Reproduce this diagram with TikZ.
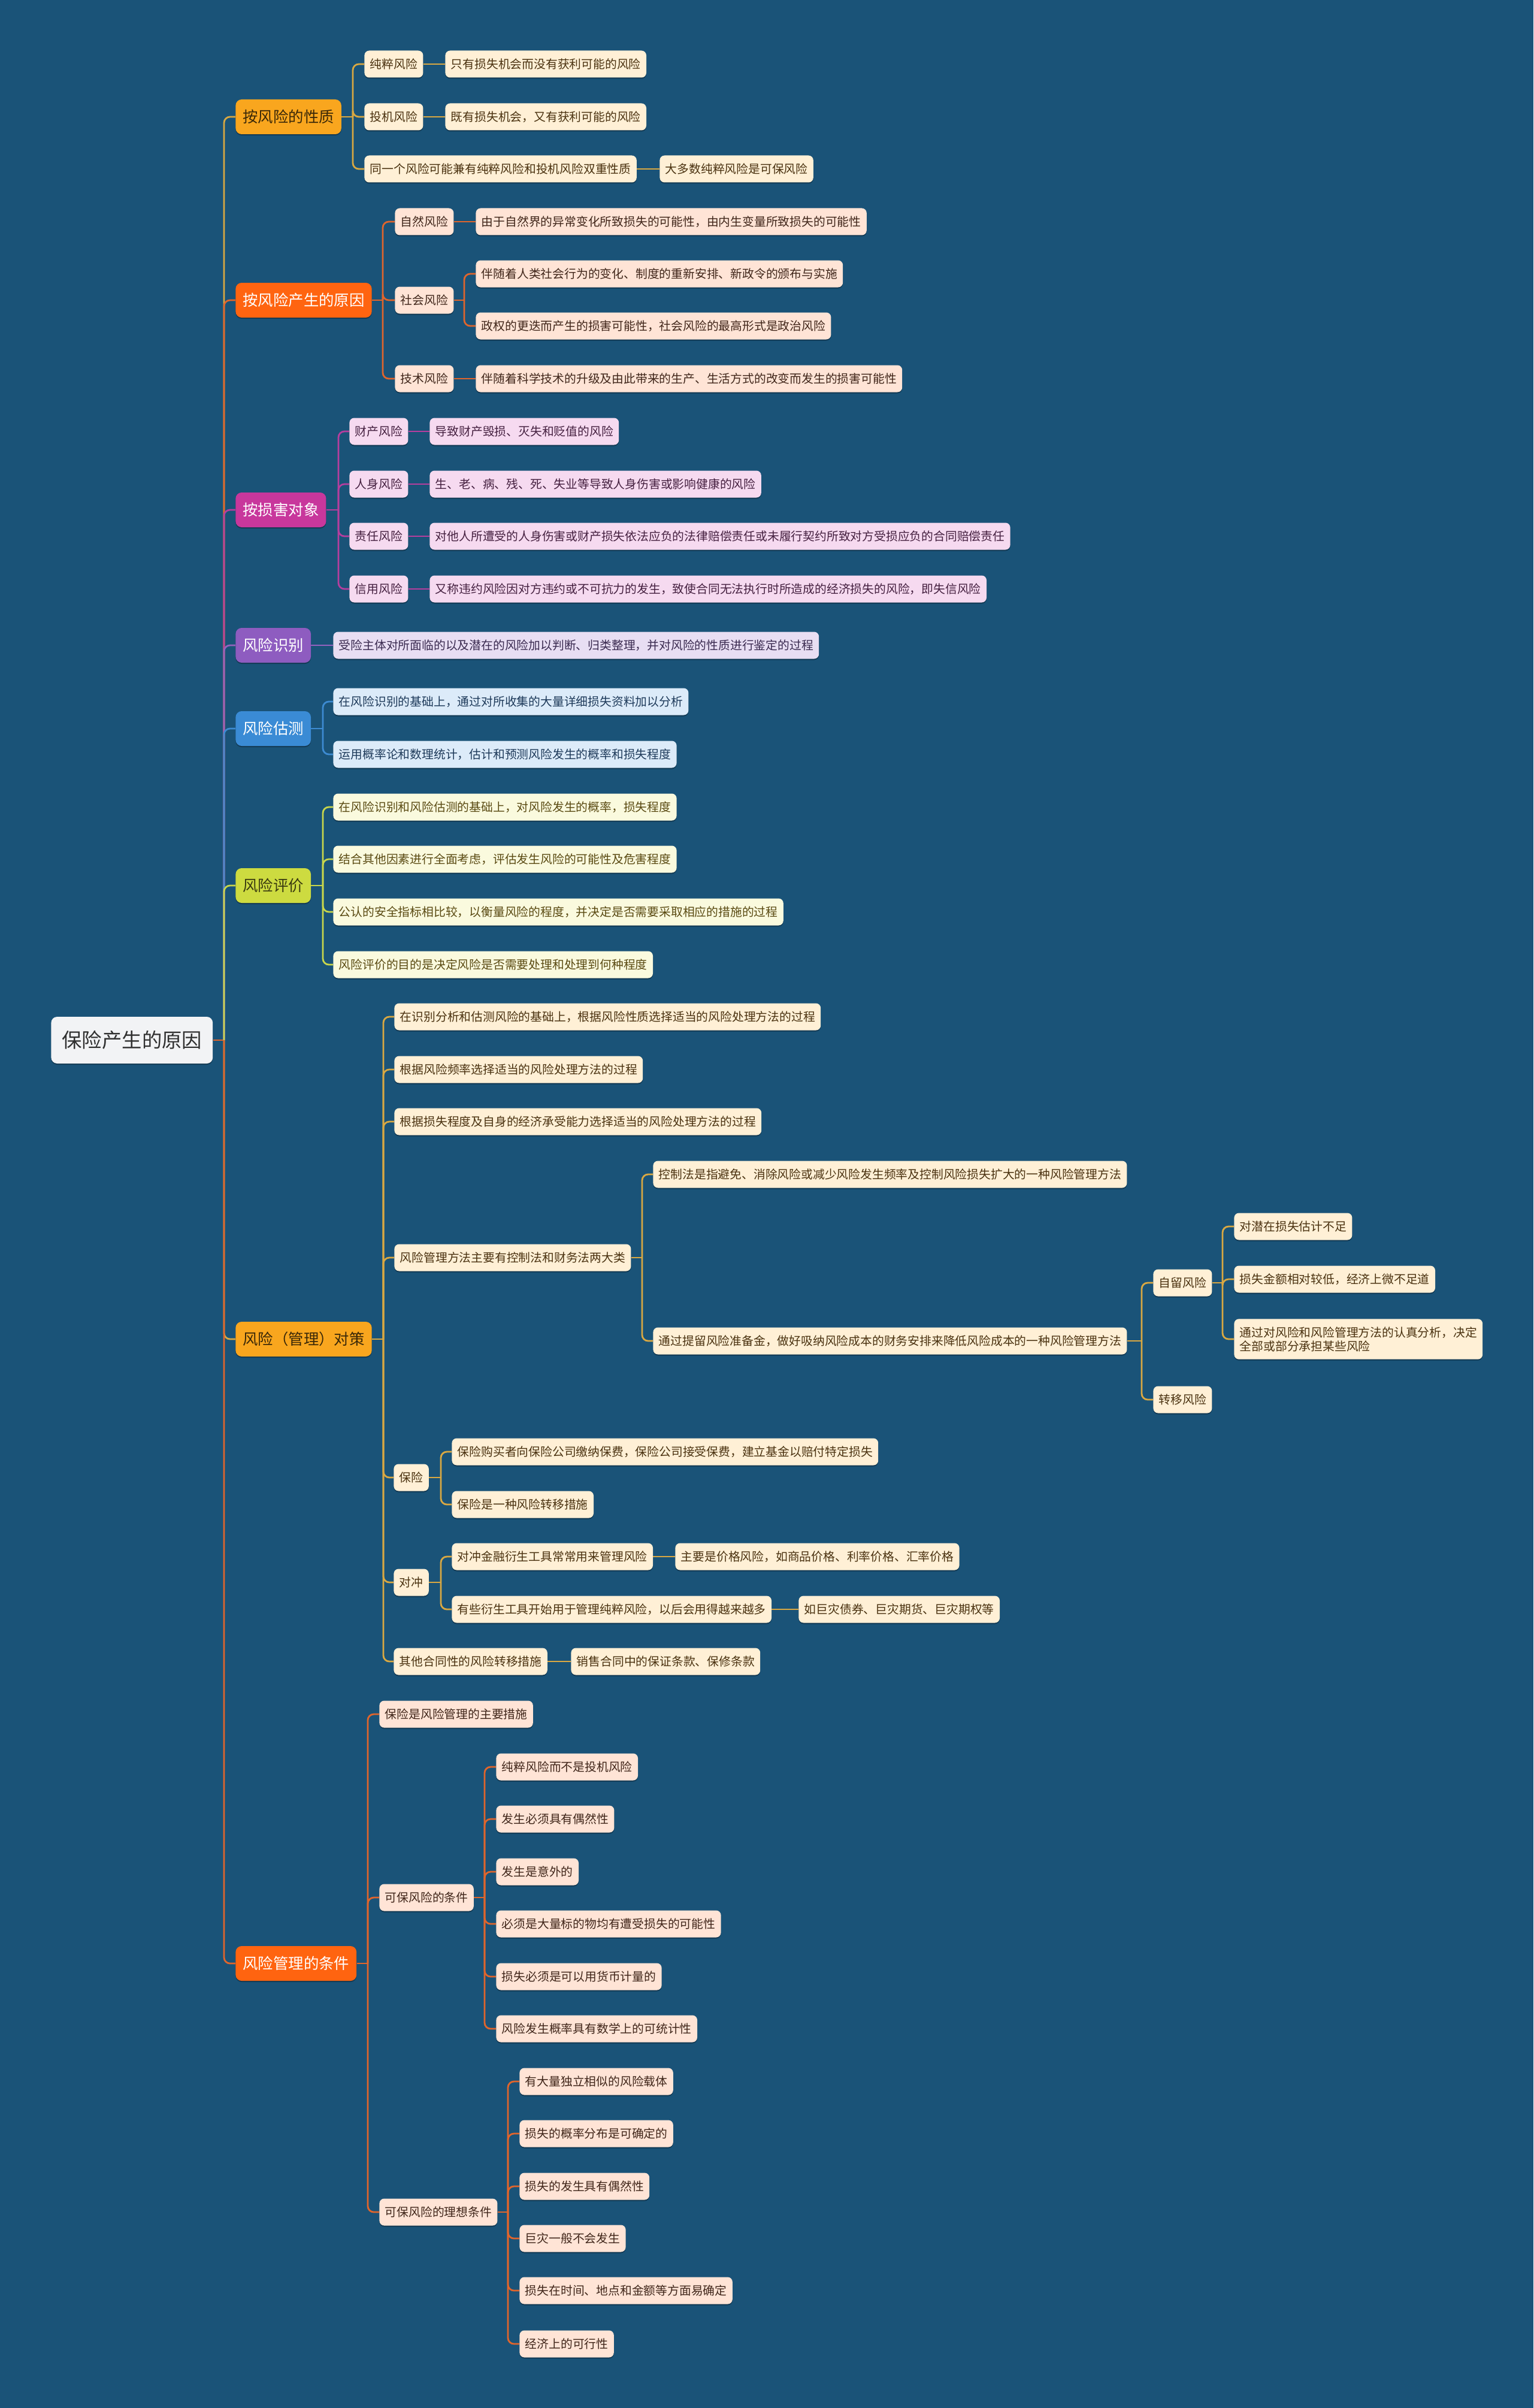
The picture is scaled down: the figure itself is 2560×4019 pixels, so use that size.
\documentclass[tikz,border=0pt]{standalone}
\usepackage{fontspec}
\setmainfont{Noto Sans CJK SC}
\usepackage{tikz}
\usetikzlibrary{positioning, backgrounds, shadows}
\definecolor{mapBg}{HTML}{1A5378}
\definecolor{rootFill}{HTML}{F2F3F5}
\definecolor{rootText}{HTML}{303030}
\definecolor{amberFill}{HTML}{F9A61E}
\definecolor{amberTopicText}{HTML}{3A2808}
\definecolor{amberLine}{HTML}{D9A842}
\definecolor{amberLeaf}{HTML}{FFF0D6}
\definecolor{amberText}{HTML}{4A3210}
\definecolor{redFill}{HTML}{FF6410}
\definecolor{redLine}{HTML}{E0652C}
\definecolor{redLeaf}{HTML}{FFE4D6}
\definecolor{redText}{HTML}{40261A}
\definecolor{magentaFill}{HTML}{C8379C}
\definecolor{magentaLine}{HTML}{B63E9E}
\definecolor{magentaLeaf}{HTML}{F6DAF0}
\definecolor{magentaText}{HTML}{452040}
\definecolor{purpleFill}{HTML}{8E5CC0}
\definecolor{purpleLine}{HTML}{9462BE}
\definecolor{purpleLeaf}{HTML}{E8DEF3}
\definecolor{purpleText}{HTML}{3A2A50}
\definecolor{blueFill}{HTML}{3A8BD5}
\definecolor{blueLine}{HTML}{3D8BD2}
\definecolor{blueLeaf}{HTML}{DCEBF9}
\definecolor{blueText}{HTML}{1E3A5A}
\definecolor{limeFill}{HTML}{CDDB40}
\definecolor{limeTopicText}{HTML}{3A3A10}
\definecolor{limeLine}{HTML}{C8D64B}
\definecolor{limeLeaf}{HTML}{FAFADE}
\definecolor{limeText}{HTML}{5A4A12}
\tikzset{
  node_shadow/.style={drop shadow={shadow xshift=0pt, shadow yshift=-1pt, opacity=0.3, fill=black}},
  root_node/.style={rectangle, fill=rootFill, text=rootText, rounded corners=5pt, inner xsep=9pt, inner ysep=0pt, minimum height=39pt, font=\fontsize{16.7}{20}\selectfont, anchor=west, node_shadow},
  topic_node/.style={rectangle, rounded corners=5pt, inner xsep=6pt, inner ysep=0pt, minimum height=29pt, font=\fontsize{12.7}{15}\selectfont, anchor=west, node_shadow},
  leaf_node/.style={rectangle, rounded corners=4pt, inner xsep=4.7pt, inner ysep=0pt, minimum height=22.5pt, font=\fontsize{9.9}{11.5}\selectfont, anchor=west, node_shadow},
  topic_amber/.style={topic_node, fill=amberFill, text=amberTopicText},
  topic_red/.style={topic_node, fill=redFill, text=white},
  topic_magenta/.style={topic_node, fill=magentaFill, text=white},
  topic_purple/.style={topic_node, fill=purpleFill, text=white},
  topic_blue/.style={topic_node, fill=blueFill, text=white},
  topic_lime/.style={topic_node, fill=limeFill, text=limeTopicText},
  leaf_amber/.style={leaf_node, fill=amberLeaf, text=amberText},
  leaf_red/.style={leaf_node, fill=redLeaf, text=redText},
  leaf_magenta/.style={leaf_node, fill=magentaLeaf, text=magentaText},
  leaf_purple/.style={leaf_node, fill=purpleLeaf, text=purpleText},
  leaf_blue/.style={leaf_node, fill=blueLeaf, text=blueText},
  leaf_lime/.style={leaf_node, fill=limeLeaf, text=limeText},
  link_line/.style={line width=1.4pt, draw=#1, rounded corners=5pt},
  link_stub/.style={line width=1.4pt, draw=#1}
}
\pgfdeclarelayer{canvas}
\pgfsetlayers{canvas, background, main}
\begin{document}
\begin{tikzpicture}[x=0.5pt, y=-0.5pt]
% 1. Canvas
\useasboundingbox (0,0) rectangle (2560,4019);
\begin{pgfonlayer}{canvas}
  \fill[mapBg] (0,0) rectangle (2560,4019);
\end{pgfonlayer}

% 2. Root and main topics
\node[root_node] (root) at (85,1736) {保险产生的原因};
\node[topic_amber] (t1) at (393,195) {按风险的性质};
\node[topic_red] (t2) at (393,501) {按风险产生的原因};
\node[topic_magenta] (t3) at (393,851) {按损害对象};
\node[topic_purple] (t4) at (393,1077) {风险识别};
\node[topic_blue] (t5) at (393,1216) {风险估测};
\node[topic_lime] (t6) at (393,1478) {风险评价};
\node[topic_amber] (t7) at (393,2235) {风险（管理）对策};
\node[topic_red] (t8) at (393,3277) {风险管理的条件};

% 3. Leaves of each topic
% by nature
\node[leaf_amber] (a1) at (608,107) {纯粹风险};
\node[leaf_amber] (a1d) at (743,107) {只有损失机会而没有获利可能的风险};
\node[leaf_amber] (a2) at (608,195) {投机风险};
\node[leaf_amber] (a2d) at (743,195) {既有损失机会，又有获利可能的风险};
\node[leaf_amber] (a3) at (608,282) {同一个风险可能兼有纯粹风险和投机风险双重性质};
\node[leaf_amber] (a3d) at (1101,282) {大多数纯粹风险是可保风险};
% by cause
\node[leaf_red] (b1) at (659,370) {自然风险};
\node[leaf_red] (b1d) at (794,370) {由于自然界的异常变化所致损失的可能性，由内生变量所致损失的可能性};
\node[leaf_red] (b2) at (659,501) {社会风险};
\node[leaf_red] (b2a) at (794,457) {伴随着人类社会行为的变化、制度的重新安排、新政令的颁布与实施};
\node[leaf_red] (b2b) at (794,544) {政权的更迭而产生的损害可能性，社会风险的最高形式是政治风险};
\node[leaf_red] (b3) at (659,632) {技术风险};
\node[leaf_red] (b3d) at (794,632) {伴随着科学技术的升级及由此带来的生产、生活方式的改变而发生的损害可能性};
% by object
\node[leaf_magenta] (c1) at (583,720) {财产风险};
\node[leaf_magenta] (c1d) at (717,720) {导致财产毁损、灭失和贬值的风险};
\node[leaf_magenta] (c2) at (583,808) {人身风险};
\node[leaf_magenta] (c2d) at (717,808) {生、老、病、残、死、失业等导致人身伤害或影响健康的风险};
\node[leaf_magenta] (c3) at (583,895) {责任风险};
\node[leaf_magenta] (c3d) at (717,895) {对他人所遭受的人身伤害或财产损失依法应负的法律赔偿责任或未履行契约所致对方受损应负的合同赔偿责任};
\node[leaf_magenta] (c4) at (583,983) {信用风险};
\node[leaf_magenta] (c4d) at (717,983) {又称违约风险因对方违约或不可抗力的发生，致使合同无法执行时所造成的经济损失的风险，即失信风险};
% identification, estimation, evaluation
\node[leaf_purple] (d1) at (556,1077) {受险主体对所面临的以及潜在的风险加以判断、归类整理，并对风险的性质进行鉴定的过程};
\node[leaf_blue] (e1) at (556,1171) {在风险识别的基础上，通过对所收集的大量详细损失资料加以分析};
\node[leaf_blue] (e2) at (556,1259) {运用概率论和数理统计，估计和预测风险发生的概率和损失程度};
\node[leaf_lime] (f1) at (556,1347) {在风险识别和风险估测的基础上，对风险发生的概率，损失程度};
\node[leaf_lime] (f2) at (556,1434) {结合其他因素进行全面考虑，评估发生风险的可能性及危害程度};
\node[leaf_lime] (f3) at (556,1522) {公认的安全指标相比较，以衡量风险的程度，并决定是否需要采取相应的措施的过程};
\node[leaf_lime] (f4) at (556,1610) {风险评价的目的是决定风险是否需要处理和处理到何种程度};
% measures
\node[leaf_amber] (g1) at (658,1697) {在识别分析和估测风险的基础上，根据风险性质选择适当的风险处理方法的过程};
\node[leaf_amber] (g2) at (658,1785) {根据风险频率选择适当的风险处理方法的过程};
\node[leaf_amber] (g3) at (658,1872) {根据损失程度及自身的经济承受能力选择适当的风险处理方法的过程};
\node[leaf_amber] (g4) at (658,2099) {风险管理方法主要有控制法和财务法两大类};
\node[leaf_amber] (g41) at (1090,1960) {控制法是指避免、消除风险或减少风险发生频率及控制风险损失扩大的一种风险管理方法};
\node[leaf_amber] (g42) at (1090,2238) {通过提留风险准备金，做好吸纳风险成本的财务安排来降低风险成本的一种风险管理方法};
\node[leaf_amber] (g421) at (1925,2141) {自留风险};
\node[leaf_amber] (g4211) at (2060,2047) {对潜在损失估计不足};
\node[leaf_amber] (g4212) at (2060,2135) {损失金额相对较低，经济上微不足道};
\node[leaf_amber, align=left, inner ysep=6.5pt] (g4213) at (2060,2235) {通过对风险和风险管理方法的认真分析，决定\\全部或部分承担某些风险};
\node[leaf_amber] (g422) at (1925,2336) {转移风险};
\node[leaf_amber] (g5) at (657,2466) {保险};
\node[leaf_amber] (g51) at (754,2423) {保险购买者向保险公司缴纳保费，保险公司接受保费，建立基金以赔付特定损失};
\node[leaf_amber] (g52) at (754,2511) {保险是一种风险转移措施};
\node[leaf_amber] (g6) at (657,2641) {对冲};
\node[leaf_amber] (g61) at (754,2598) {对冲金融衍生工具常常用来管理风险};
\node[leaf_amber] (g61d) at (1127,2598) {主要是价格风险，如商品价格、利率价格、汇率价格};
\node[leaf_amber] (g62) at (754,2686) {有些衍生工具开始用于管理纯粹风险，以后会用得越来越多};
\node[leaf_amber] (g62d) at (1333,2686) {如巨灾债券、巨灾期货、巨灾期权等};
\node[leaf_amber] (g7) at (657,2773) {其他合同性的风险转移措施};
\node[leaf_amber] (g7d) at (953,2773) {销售合同中的保证条款、保修条款};
% conditions
\node[leaf_red] (h1) at (633,2861) {保险是风险管理的主要措施};
\node[leaf_red] (h2) at (633,3167) {可保风险的条件};
\node[leaf_red] (h21) at (828,2949) {纯粹风险而不是投机风险};
\node[leaf_red] (h22) at (828,3036) {发生必须具有偶然性};
\node[leaf_red] (h23) at (828,3124) {发生是意外的};
\node[leaf_red] (h24) at (828,3211) {必须是大量标的物均有遭受损失的可能性};
\node[leaf_red] (h25) at (828,3299) {损失必须是可以用货币计量的};
\node[leaf_red] (h26) at (828,3386) {风险发生概率具有数学上的可统计性};
\node[leaf_red] (h3) at (633,3692) {可保风险的理想条件};
\node[leaf_red] (h31) at (867,3474) {有大量独立相似的风险载体};
\node[leaf_red] (h32) at (867,3561) {损失的概率分布是可确定的};
\node[leaf_red] (h33) at (867,3649) {损失的发生具有偶然性};
\node[leaf_red] (h34) at (867,3736) {巨灾一般不会发生};
\node[leaf_red] (h35) at (867,3823) {损失在时间、地点和金额等方面易确定};
\node[leaf_red] (h36) at (867,3912) {经济上的可行性};

% 4. Bus lines
\coordinate (trunk) at (374,0);
\coordinate (busA) at (589,0);
\coordinate (busB) at (639,0);
\coordinate (busB2) at (775,0);
\coordinate (busC) at (565,0);
\coordinate (busE) at (539,0);
\coordinate (busG) at (640,0);
\coordinate (busG4) at (1072,0);
\coordinate (busG42) at (1906,0);
\coordinate (busG421) at (2041,0);
\coordinate (busG56) at (736,0);
\coordinate (busH) at (614,0);
\coordinate (busH2) at (809,0);
\coordinate (busH3) at (848,0);

% 5. Connectors
\begin{scope}[on background layer]
  % root to topics
  \draw[link_stub=redLine] (root.east) -- ([xshift=0.7pt]root.east -| trunk);
  \foreach \t/\c in {t1/amberLine, t2/redLine, t3/magentaLine, t4/purpleLine, t5/blueLine, t6/limeLine, t7/amberLine, t8/redLine}
    \draw[link_line=\c] (root.east -| trunk) |- (\t.west);

  % by nature
  \draw[link_stub=amberLine] (t1.east) -- ([xshift=0.7pt]t1.east -| busA);
  \foreach \c in {a1, a2, a3}
    \draw[link_line=amberLine] (t1.east -| busA) |- (\c.west);
  \foreach \p/\q in {a1/a1d, a2/a2d, a3/a3d}
    \draw[link_stub=amberLine] (\p.east) -- (\q.west);

  % by cause
  \draw[link_stub=redLine] (t2.east) -- ([xshift=0.7pt]t2.east -| busB);
  \foreach \c in {b1, b2, b3}
    \draw[link_line=redLine] (t2.east -| busB) |- (\c.west);
  \draw[link_stub=redLine] (b2.east) -- ([xshift=0.7pt]b2.east -| busB2);
  \foreach \c in {b2a, b2b}
    \draw[link_line=redLine] (b2.east -| busB2) |- (\c.west);
  \foreach \p/\q in {b1/b1d, b3/b3d}
    \draw[link_stub=redLine] (\p.east) -- (\q.west);

  % by object
  \draw[link_stub=magentaLine] (t3.east) -- ([xshift=0.7pt]t3.east -| busC);
  \foreach \c in {c1, c2, c3, c4}
    \draw[link_line=magentaLine] (t3.east -| busC) |- (\c.west);
  \foreach \p/\q in {c1/c1d, c2/c2d, c3/c3d, c4/c4d}
    \draw[link_stub=magentaLine] (\p.east) -- (\q.west);

  % identification, estimation, evaluation
  \draw[link_stub=purpleLine] (t4.east) -- (d1.west);
  \draw[link_stub=blueLine] (t5.east) -- ([xshift=0.7pt]t5.east -| busE);
  \foreach \c in {e1, e2}
    \draw[link_line=blueLine] (t5.east -| busE) |- (\c.west);
  \draw[link_stub=limeLine] (t6.east) -- ([xshift=0.7pt]t6.east -| busE);
  \foreach \c in {f1, f2, f3, f4}
    \draw[link_line=limeLine] (t6.east -| busE) |- (\c.west);

  % measures
  \draw[link_stub=amberLine] (t7.east) -- ([xshift=0.7pt]t7.east -| busG);
  \foreach \c in {g1, g2, g3, g4, g5, g6, g7}
    \draw[link_line=amberLine] (t7.east -| busG) |- (\c.west);
  \draw[link_stub=amberLine] (g4.east) -- ([xshift=0.7pt]g4.east -| busG4);
  \foreach \c in {g41, g42}
    \draw[link_line=amberLine] (g4.east -| busG4) |- (\c.west);
  \draw[link_stub=amberLine] (g42.east) -- ([xshift=0.7pt]g42.east -| busG42);
  \foreach \c in {g421, g422}
    \draw[link_line=amberLine] (g42.east -| busG42) |- (\c.west);
  \draw[link_stub=amberLine] (g421.east) -- ([xshift=0.7pt]g421.east -| busG421);
  \foreach \c in {g4211, g4212, g4213}
    \draw[link_line=amberLine] (g421.east -| busG421) |- (\c.west);
  \draw[link_stub=amberLine] (g5.east) -- ([xshift=0.7pt]g5.east -| busG56);
  \foreach \c in {g51, g52}
    \draw[link_line=amberLine] (g5.east -| busG56) |- (\c.west);
  \draw[link_stub=amberLine] (g6.east) -- ([xshift=0.7pt]g6.east -| busG56);
  \foreach \c in {g61, g62}
    \draw[link_line=amberLine] (g6.east -| busG56) |- (\c.west);
  \foreach \p/\q in {g61/g61d, g62/g62d, g7/g7d}
    \draw[link_stub=amberLine] (\p.east) -- (\q.west);

  % conditions
  \draw[link_stub=redLine] (t8.east) -- ([xshift=0.7pt]t8.east -| busH);
  \foreach \c in {h1, h2, h3}
    \draw[link_line=redLine] (t8.east -| busH) |- (\c.west);
  \draw[link_stub=redLine] (h2.east) -- ([xshift=0.7pt]h2.east -| busH2);
  \foreach \c in {h21, h22, h23, h24, h25, h26}
    \draw[link_line=redLine] (h2.east -| busH2) |- (\c.west);
  \draw[link_stub=redLine] (h3.east) -- ([xshift=0.7pt]h3.east -| busH3);
  \foreach \c in {h31, h32, h33, h34, h35, h36}
    \draw[link_line=redLine] (h3.east -| busH3) |- (\c.west);
\end{scope}
\end{tikzpicture}
\end{document}
